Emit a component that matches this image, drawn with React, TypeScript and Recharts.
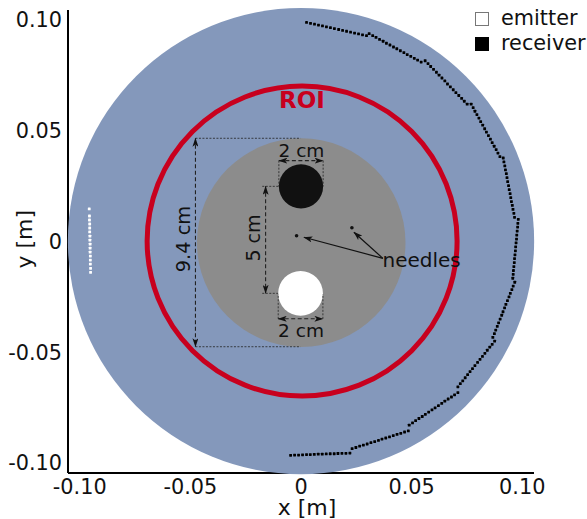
import React from "react";
import { ScatterChart, Scatter, XAxis, YAxis, ReferenceDot, ReferenceLine, Legend } from "recharts";

const xTicks = [-0.1, -0.05, 0, 0.05, 0.1];
const yTicks = [-0.1, -0.05, 0, 0.05, 0.1];
const tickText: Record<string, string> = { "-0.1": "-0.10", "-0.05": "-0.05", "0": "0", "0.05": "0.05", "0.1": "0.10" };

// element positions in millimetres
const emitterX = [-95.7, -95.6, -95.6, -95.5, -95.5, -95.5, -95.4, -95.4, -95.3, -95.3, -95.3, -95.2, -95.2, -95.2, -95.1, -95.1];
const emitterY = [14.7, 11.5, 9.7, 7.9, 6.1, 4.3, 2.4, 0.6, -1.2, -3.0, -4.8, -6.6, -8.4, -10.2, -12.1, -13.9];

const receiverX = [
  2.5, 4.3, 6.1, 7.9, 9.7, 11.5, 13.3, 15.1, 17.0, 18.8, 20.6, 22.4, 24.2, 26.0, 27.8, 29.6,
  30.8, 32.4, 33.9, 35.5, 37.1, 38.6, 40.2, 41.8, 43.3, 44.9, 46.5, 48.0, 49.6, 51.2, 52.7, 54.3,
  56.1, 57.4, 58.6, 59.9, 61.2, 62.4, 63.7, 65.0, 66.2, 67.5, 68.8, 70.0, 71.3, 72.6, 73.8, 75.1,
  76.9, 77.8, 78.6, 79.5, 80.4, 81.2, 82.1, 83.0, 83.8, 84.7, 85.6, 86.4, 87.3, 88.2, 89.0, 89.9,
  91.4, 91.7, 92.1, 92.4, 92.8, 93.1, 93.4, 93.8, 94.1, 94.5, 94.8, 95.1, 95.5, 95.8, 96.2, 96.5,
  98.2, 98.0, 97.9, 97.7, 97.5, 97.4, 97.2, 97.0, 96.9, 96.7, 96.5, 96.4, 96.2, 96.0, 95.9, 95.7,
  96.6, 95.9, 95.3, 94.6, 94.0, 93.3, 92.6, 92.0, 91.3, 90.7, 90.0, 89.3, 88.7, 88.0, 87.4, 86.7,
  87.5, 86.4, 85.3, 84.2, 83.1, 82.0, 80.9, 79.8, 78.6, 77.5, 76.4, 75.3, 74.2, 73.1, 72.0, 70.9,
  70.9, 69.4, 68.0, 66.5, 65.0, 63.6, 62.1, 60.6, 59.2, 57.7, 56.2, 54.8, 53.3, 51.8, 50.4, 48.9,
  48.5, 46.8, 45.1, 43.4, 41.7, 40.0, 38.3, 36.6, 35.0, 33.3, 31.6, 29.9, 28.2, 26.5, 24.8, 23.1,
  22.1, 20.3, 18.5, 16.7, 15.0, 13.2, 11.4, 9.6, 7.8, 6.0, 4.2, 2.5, 0.7, -1.1, -2.9, -4.7,
];
const receiverY = [
  98.9, 98.5, 98.1, 97.7, 97.3, 96.9, 96.5, 96.1, 95.7, 95.3, 94.9, 94.5, 94.1, 93.7, 93.3, 92.9,
  93.8, 92.9, 92.1, 91.2, 90.4, 89.5, 88.7, 87.8, 87.0, 86.1, 85.3, 84.4, 83.6, 82.7, 81.9, 81.0,
  81.6, 80.3, 79.0, 77.7, 76.4, 75.1, 73.8, 72.5, 71.1, 69.8, 68.5, 67.2, 65.9, 64.6, 63.3, 62.0,
  62.0, 60.4, 58.8, 57.3, 55.7, 54.1, 52.5, 50.9, 49.4, 47.8, 46.2, 44.6, 43.0, 41.5, 39.9, 38.3,
  37.7, 35.9, 34.1, 32.3, 30.6, 28.8, 27.0, 25.2, 23.4, 21.6, 19.8, 18.0, 16.3, 14.5, 12.7, 10.9,
  10.0, 8.2, 6.5, 4.7, 2.9, 1.1, -0.6, -2.4, -4.2, -6.0, -7.7, -9.5, -11.3, -13.1, -14.8, -16.6,
  -18.4, -20.1, -21.7, -23.4, -25.0, -26.7, -28.4, -30.0, -31.7, -33.3, -35.0, -36.7, -38.3, -40.0, -41.6, -43.3,
  -45.0, -46.4, -47.7, -49.1, -50.5, -51.9, -53.2, -54.6, -56.0, -57.4, -58.7, -60.1, -61.5, -62.9, -64.2, -65.6,
  -68.2, -69.2, -70.2, -71.1, -72.1, -73.1, -74.1, -75.1, -76.0, -77.0, -78.0, -79.0, -79.9, -80.9, -81.9, -82.9,
  -85.5, -86.0, -86.6, -87.1, -87.6, -88.2, -88.7, -89.2, -89.8, -90.3, -90.8, -91.4, -91.9, -92.4, -93.0, -93.5,
  -95.5, -95.6, -95.6, -95.7, -95.8, -95.8, -95.9, -96.0, -96.0, -96.1, -96.2, -96.2, -96.3, -96.4, -96.4, -96.5,
];

const emitters = emitterX.map((x, i) => ({ x: x / 1000, y: emitterY[i] / 1000 }));
const receivers = receiverX.map((x, i) => ({ x: x / 1000, y: receiverY[i] / 1000 }));

const FONT = "DejaVu Sans";
const PX_PER_M = 2214;
const BLUE = "#8498bb";
const RED = "#c8001e";
const GREY = "#8c8c8c";

const xDomain: [number, number] = [-0.1053, 0.1053];
const yDomain: [number, number] = [-0.1045, 0.1045];

// [x, y, radius m, fill, stroke, strokeWidth]
const discs: [number, number, number, string, string, number][] = [
  [0, 0.0002, 0.1053, BLUE, "none", 0],
  [0.0005, 0.0002, 0.07, "none", RED, 5],
  [0.0001, -0.0005, 0.0471, GREY, "none", 0],
  [0, 0.0249, 0.01, "#111111", "none", 0],
  [-0.0002, -0.0234, 0.0101, "#ffffff", "none", 0],
];

const needles = [
  { x: -0.002, y: 0.0026 },
  { x: 0.023, y: 0.0062 },
];

type Seg = [number, number, number, number];
const thinLines: Seg[] = [
  [-0.0477, 0.0466, -0.0002, 0.0466],
  [-0.0477, -0.0475, -0.0002, -0.0475],
  [-0.01, 0.0365, -0.01, 0.0249],
  [0.01, 0.0365, 0.01, 0.0249],
  [-0.0103, -0.0349, -0.0103, -0.0237],
  [0.0099, -0.0349, 0.0099, -0.0237],
  [-0.0175, 0.0249, -0.01, 0.0249],
  [-0.0175, -0.0234, -0.0103, -0.0234],
];
const dimLines: Seg[] = [
  [-0.0477, 0.0466, -0.0477, -0.0475],
  [-0.016, 0.0249, -0.016, -0.0234],
  [-0.01, 0.0365, 0.01, 0.0365],
  [-0.0103, -0.0349, 0.0099, -0.0349],
];
const needleArrows: Seg[] = [
  [0.037, -0.0076, 0.0013, 0.0019],
  [0.037, -0.0076, 0.0239, 0.0042],
];

const notes: { x: number; y: number; text: string; size: number; rotate: number; fill: string; weight: string }[] = [
  { x: 0.0002, y: 0.041, text: "2 cm", size: 18.5, rotate: 0, fill: "#111", weight: "normal" },
  { x: 0, y: -0.04, text: "2 cm", size: 18.5, rotate: 0, fill: "#111", weight: "normal" },
  { x: -0.0215, y: 0.0016, text: "5 cm", size: 19, rotate: -90, fill: "#111", weight: "normal" },
  { x: -0.0531, y: 0.0011, text: "9.4 cm", size: 19.3, rotate: -90, fill: "#111", weight: "normal" },
  { x: 0.0545, y: -0.0084, text: "needles", size: 20, rotate: 0, fill: "#111", weight: "normal" },
  { x: 0.0004, y: 0.0639, text: "ROI", size: 23, rotate: 0, fill: RED, weight: "bold" },
];

const square = (size: number) => (p: any) => (
  <rect x={p.cx - size / 2} y={p.cy - size / 2} width={size} height={size} rx={0.4} fill={p.fill} />
);

const legendContent = ({ payload }: any) => (
  <div style={{ fontFamily: FONT, fontSize: 20.8, lineHeight: "25px", color: "#111" }}>
    {(payload || []).map((e: any) => (
      <div key={e.value} style={{ display: "flex", alignItems: "center", height: 25 }}>
        <span
          style={{
            display: "inline-block",
            boxSizing: "border-box",
            width: 14,
            height: 14,
            marginRight: 12,
            background: e.color,
            border: `1px solid ${e.color === "#ffffff" ? "#777" : e.color}`,
          }}
        />
        {e.value}
      </div>
    ))}
  </div>
);

const Z = 2000 as any;

export default function App() {
  return (
    <div style={{ position: "absolute", left: 0, top: 0 }}>
      <ScatterChart width={587} height={519} margin={{ top: 10, right: 53, bottom: 0, left: 0 }}>
        <defs>
          <marker id="arrow" viewBox="0 0 9 6" refX="8.5" refY="3" markerWidth="9" markerHeight="6" markerUnits="userSpaceOnUse" orient="auto-start-reverse">
            <path d="M0,0 L9,3 L0,6 L2.2,3 Z" fill="#111" />
          </marker>
        </defs>
        <XAxis
          type="number"
          dataKey="x"
          domain={xDomain}
          ticks={xTicks}
          allowDataOverflow
          tickFormatter={(v: number) => tickText[String(v)]}
          tickLine={false}
          tickSize={0}
          tickMargin={6}
          height={46}
          axisLine={{ stroke: "#000", strokeWidth: 2 }}
          tick={{ fontFamily: FONT, fontSize: 20.8, fill: "#111" }}
          interval={0}
          label={{ value: "x [m]", position: "insideBottom", offset: 4, dx: 6, style: { fontFamily: FONT, fontSize: 22, fill: "#111" } }}
        />
        <YAxis
          type="number"
          dataKey="y"
          domain={yDomain}
          ticks={yTicks}
          allowDataOverflow
          tickFormatter={(v: number) => tickText[String(v)]}
          tickLine={false}
          tickSize={0}
          tickMargin={6}
          width={68}
          axisLine={{ stroke: "#000", strokeWidth: 2 }}
          tick={{ fontFamily: FONT, fontSize: 20.8, fill: "#111" }}
          interval={0}
          label={{ value: "y [m]", angle: -90, position: "insideLeft", offset: 24, dy: 27, style: { fontFamily: FONT, fontSize: 22, fill: "#111" } }}
        />
        {discs.map(([x, y, r, fill, stroke, sw], i) => (
          <ReferenceDot key={"d" + i} x={x} y={y} r={r * PX_PER_M} fill={fill} stroke={stroke} strokeWidth={sw} ifOverflow="visible" />
        ))}
        {thinLines.map(([a, b, c, d], i) => (
          <ReferenceLine key={"t" + i} zIndex={Z} segment={[{ x: a, y: b }, { x: c, y: d }]} stroke="#222" strokeWidth={0.8} strokeDasharray="2 1.5" ifOverflow="visible" />
        ))}
        {dimLines.map(([a, b, c, d], i) => (
          <ReferenceLine key={"m" + i} zIndex={Z} segment={[{ x: a, y: b }, { x: c, y: d }]} stroke="#222" strokeWidth={1.1} strokeDasharray="4 2.5" markerStart="url(#arrow)" markerEnd="url(#arrow)" ifOverflow="visible" />
        ))}
        {needleArrows.map(([a, b, c, d], i) => (
          <ReferenceLine key={"a" + i} zIndex={Z} segment={[{ x: a, y: b }, { x: c, y: d }]} stroke="#111" strokeWidth={1.2} markerEnd="url(#arrow)" ifOverflow="visible" />
        ))}
        {needles.map((n, i) => (
          <ReferenceDot key={"n" + i} x={n.x} y={n.y} r={1.8} fill="#111" stroke="none" ifOverflow="visible" />
        ))}
        {notes.map((n, i) => (
          <ReferenceDot
            key={"l" + i}
            x={n.x}
            y={n.y}
            r={1}
            ifOverflow="visible"
            shape={(p: any) => (
              <text
                x={p.cx}
                y={p.cy}
                textAnchor="middle"
                dominantBaseline="central"
                fontFamily={FONT}
                fontSize={n.size}
                fontWeight={n.weight}
                fill={n.fill}
                transform={n.rotate ? `rotate(${n.rotate} ${p.cx} ${p.cy})` : undefined}
              >
                {n.text}
              </text>
            )}
          />
        ))}
        <Scatter name="emitter" data={emitters} fill="#ffffff" isAnimationActive={false} shape={square(2.8)} />
        <Scatter name="receiver" data={receivers} fill="#000000" isAnimationActive={false} shape={square(2.8)} />
        <Legend layout="vertical" align="center" verticalAlign="middle" content={legendContent} wrapperStyle={{ left: 475, top: 6, width: 112, right: "auto", bottom: "auto" }} />
      </ScatterChart>
    </div>
  );
}
